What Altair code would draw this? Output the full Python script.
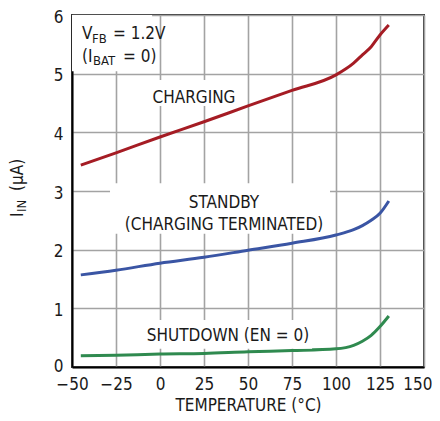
import altair as alt
import pandas as pd

# ---- data ----
temperature = [-45, -25, 0, 25, 50, 75, 100, 110, 115, 120, 125, 130]
charging = [3.44, 3.65, 3.92, 4.18, 4.45, 4.715, 4.98, 5.18, 5.32, 5.46, 5.66, 5.83]
standby = [1.57, 1.65, 1.77, 1.87, 1.99, 2.11, 2.25, 2.34, 2.41, 2.50, 2.62, 2.83]
shutdown = [0.19, 0.20, 0.22, 0.23, 0.26, 0.28, 0.31, 0.37, 0.44, 0.54, 0.69, 0.87]
series_names = ["CHARGING", "STANDBY", "SHUTDOWN"]
series_colors = ["#a51c24", "#3a55a4", "#2f8a4f"]
x_ticks = [-50, -25, 0, 25, 50, 75, 100, 125, 150]
y_ticks = [0, 1, 2, 3, 4, 5, 6]

FONT = "DejaVu Sans Condensed, Liberation Sans Narrow, Roboto, sans-serif"
TXT = "#1a1a1a"

rows = []
for name, vals in zip(series_names, [charging, standby, shutdown]):
    for t, v in zip(temperature, vals):
        rows.append({"temp": t, "current": v, "series": name})
df = pd.DataFrame(rows)

xs = alt.Scale(domain=[-50, 150], nice=False)
ys = alt.Scale(domain=[0, 6], nice=False)

x_axis = alt.Axis(
    values=x_ticks, title="TEMPERATURE (°C)", grid=True, format="d",
    labelFlush=False,
    labelAlign={"condition": {"test": "datum.value == 150", "value": "right"},
                "value": "center"},
    labelOffset={"condition": {"test": "datum.value == 150", "value": 8},
                 "value": 0},
)
y_axis = alt.Axis(
    values=y_ticks, title=None, grid=True, format="d",
    labelOffset={"condition": {"test": "datum.value == 0", "value": -1},
                 "value": 2},
)

lines = alt.Chart(df).mark_line(strokeWidth=3, interpolate="monotone").encode(
    x=alt.X("temp:Q", scale=xs, axis=x_axis),
    y=alt.Y("current:Q", scale=ys, axis=y_axis),
    color=alt.Color("series:N", scale=alt.Scale(domain=series_names, range=series_colors),
                    legend=None),
    detail="series:N",
)

# white label backgrounds (interrupt the grid like the reference)
boxes = pd.DataFrame({
    "x0": [-50, -6.8, -28.4, -9.1],
    "x1": [-4.5, 42.0, 96.6, 86.4],
    "y0": [5.04, 4.45, 2.27, 0.31],
    "y1": [6.0, 4.89, 3.13, 0.80],
})
rects = alt.Chart(boxes).mark_rect(color="white").encode(
    x=alt.X("x0:Q", scale=xs), x2="x1:Q",
    y=alt.Y("y0:Q", scale=ys), y2="y1:Q",
)

def txt(text, x, y, size=17, align="left", baseline="alphabetic", angle=0):
    kw = dict(text=text, font=FONT, fontSize=size, color=TXT, align=align,
              baseline=baseline)
    if angle:
        kw["angle"] = angle
    return alt.Chart(pd.DataFrame({"a": [0]})).mark_text(**kw).encode(
        x=alt.value(x), y=alt.value(y))

labels = [
    # V_FB = 1.2V / (I_BAT = 0)   (pixel coords inside plot area)
    txt("V", 10, 24), txt("FB", 20, 28, size=13), txt("= 1.2V", 41, 24),
    txt("(I", 10, 47), txt("BAT", 21, 50, size=13), txt("= 0)", 51, 47),
    txt("CHARGING", 122, 82.5, align="center", baseline="middle"),
    txt("STANDBY", 152, 187.5, align="center", baseline="middle"),
    txt("(CHARGING TERMINATED)", 152, 209.5, align="center", baseline="middle"),
    txt("SHUTDOWN (EN = 0)", 156, 321, align="center", baseline="middle"),
    # y axis title I_IN (µA), rotated
    txt("I", -54, 202, angle=270, baseline="middle"),
    txt("IN", -50, 197, size=13, angle=270, baseline="middle"),
    txt("(µA)", -54, 176, angle=270, baseline="middle"),
]

chart = alt.layer(lines, rects, *labels).properties(
    width=352, height=352,
    autosize=alt.AutoSizeParams(type="none"),
    padding={"left": 64, "top": 7, "right": 8, "bottom": 46},
).configure_view(
    stroke="#333333", strokeWidth=2
).configure_axis(
    gridColor="#a3a3a3", gridWidth=1.6, gridOpacity=1,
    domainColor="#000000", domainWidth=2,
    ticks=False,
    labelFont=FONT, labelFontSize=17, labelColor=TXT,
    titleFont=FONT, titleFontSize=17, titleFontWeight="normal", titleColor=TXT,
).configure_axisX(
    labelPadding=9, titlePadding=5,
).configure_axisY(
    labelPadding=9,
)

chart.save("out.html", embed_options={"renderer": "svg", "actions": False})
